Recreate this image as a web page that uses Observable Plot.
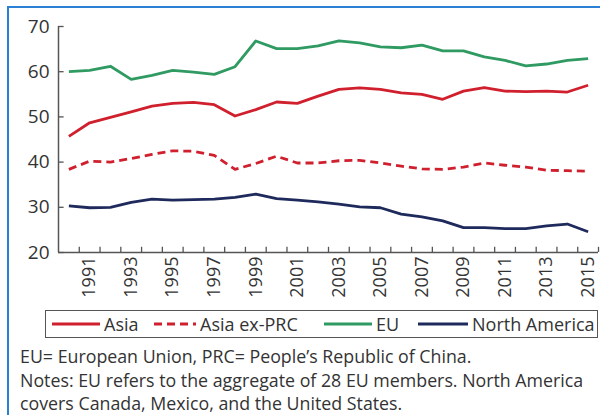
<!DOCTYPE html>
<html>
<head>
<meta charset="utf-8">
<script src="https://cdn.jsdelivr.net/npm/d3@7"></script>
<script src="https://cdn.jsdelivr.net/npm/@observablehq/plot@0.6"></script>
<style>
  html, body { margin: 0; padding: 0; background: #fff; width: 600px; height: 415px; overflow: hidden; }
  body { position: relative; font-family: "Open Sans", "Noto Sans", sans-serif; color: #333; }
  #frame { position: absolute; left: 7px; top: 6px; width: 700px; height: 500px; border-top: 2px solid #2b80d3; border-left: 2px solid #2b80d3; }
  #chart { position: absolute; left: 0; top: 0; }
  #legend { position: absolute; left: 45px; top: 310px; width: 551px; height: 26px; border: 1.5px solid #555; background: #fff; }
  .item { position: absolute; top: 0; height: 26px; display: flex; align-items: center; font-size: 18px; color: #333; white-space: nowrap; }
  .item svg { margin-right: 2px; }
  #notes { position: absolute; left: 20px; top: 345px; font-size: 17.8px; line-height: 23.5px; color: #333; white-space: nowrap; }
</style>
</head>
<body>
<div id="frame"></div>
<div id="chart"></div>
<div id="legend"></div>
<div id="notes">EU= European Union, PRC= People’s Republic of China.<br>Notes: EU refers to the aggregate of 28 EU members. North America<br>covers Canada, Mexico, and the United States.</div>
<script>
const years = [1990,1991,1992,1993,1994,1995,1996,1997,1998,1999,2000,2001,2002,2003,2004,2005,2006,2007,2008,2009,2010,2011,2012,2013,2014,2015];
const asia =       [45.7,48.7,49.9,51.1,52.4,53.0,53.2,52.7,50.2,51.6,53.3,53.0,54.6,56.1,56.4,56.1,55.3,55.0,53.9,55.7,56.5,55.7,55.6,55.7,55.5,57.0];
const asiaExPRC =  [38.4,40.2,40.0,40.8,41.7,42.5,42.4,41.5,38.4,39.7,41.3,39.8,39.8,40.3,40.4,39.8,39.1,38.5,38.4,38.9,39.8,39.3,38.9,38.2,38.1,38.0];
const eu =         [60.0,60.3,61.2,58.3,59.2,60.3,59.9,59.4,61.1,66.8,65.1,65.1,65.7,66.8,66.4,65.5,65.3,65.9,64.6,64.6,63.3,62.5,61.3,61.7,62.5,62.9];
const northAmerica=[30.3,29.9,30.0,31.1,31.8,31.6,31.7,31.8,32.2,32.9,31.9,31.6,31.2,30.7,30.1,29.9,28.5,27.9,27.0,25.5,25.5,25.3,25.3,25.9,26.3,24.6];

const seriesNames = ["Asia", "Asia ex-PRC", "EU", "North America"];
const seriesColors = ["#d0202e", "#d0202e", "#2f9a62", "#1f2a5c"];
const seriesDash = [null, "8,5", null, null];
const yTicks = [20, 30, 40, 50, 60, 70];
const xLabelYears = [1991,1993,1995,1997,1999,2001,2003,2005,2007,2009,2011,2013,2015];

const seriesValues = [asia, asiaExPRC, eu, northAmerica];
const tickBounds = years.map(y => y + 0.5);
const x0 = years[0] - 0.5;

const lineMarks = seriesValues.map((vals, i) =>
  Plot.line(years.map((yr, j) => ({year: yr, value: vals[j]})), {
    x: "year", y: "value", stroke: seriesColors[i], strokeWidth: 2.8,
    strokeDasharray: seriesDash[i] || undefined, strokeLinejoin: "round", strokeLinecap: "butt"
  })
);

const chart = Plot.plot({
  width: 600,
  height: 310,
  marginLeft: 58,
  marginRight: 2,
  marginTop: 26,
  marginBottom: 58,
  style: { fontFamily: "Open Sans, Noto Sans, sans-serif", color: "#333", background: "transparent", overflow: "visible" },
  x: { domain: [x0, years[years.length - 1] + 0.5] },
  y: { domain: [20, 70] },
  marks: [
    Plot.ruleY(yTicks, { y: d => d, x1: x0, x2: x0 + 0.27, stroke: "#555", strokeWidth: 1.3 }),
    Plot.ruleX(tickBounds, { x: d => d, y1: 20, y2: 21.15, stroke: "#555", strokeWidth: 1.3 }),
    Plot.ruleX([x0], { y1: 20, y2: 70, stroke: "#555", strokeWidth: 1.5 }),
    Plot.ruleY([20], { stroke: "#555", strokeWidth: 1.5 }),
    Plot.axisY({ ticks: yTicks, tickSize: 0, tickPadding: 9, fontSize: 19, label: null, tickFormat: d => String(d) }),
    Plot.axisX({ ticks: xLabelYears, tickSize: 0, tickPadding: 7, tickRotate: -90, fontSize: 18, label: null, tickFormat: d => String(d), dy: -3 }),
    ...lineMarks
  ]
});
document.getElementById("chart").appendChild(chart);

// Legend
const legend = document.getElementById("legend");
const itemLefts = [6, 108, 278, 372];
const swatchW = [48, 42, 48, 50];
seriesNames.forEach((name, i) => {
  const div = document.createElement("div");
  div.className = "item";
  div.style.left = itemLefts[i] + "px";
  const w = swatchW[i];
  const svg = d3.create("svg").attr("width", w + 2).attr("height", 10);
  svg.append("line").attr("x1", 0).attr("x2", w).attr("y1", 5).attr("y2", 5)
    .attr("stroke", seriesColors[i]).attr("stroke-width", 2.8)
    .attr("stroke-dasharray", seriesDash[i] || null);
  div.appendChild(svg.node());
  const span = document.createElement("span");
  span.textContent = name;
  div.appendChild(span);
  legend.appendChild(div);
});
</script>
</body>
</html>
